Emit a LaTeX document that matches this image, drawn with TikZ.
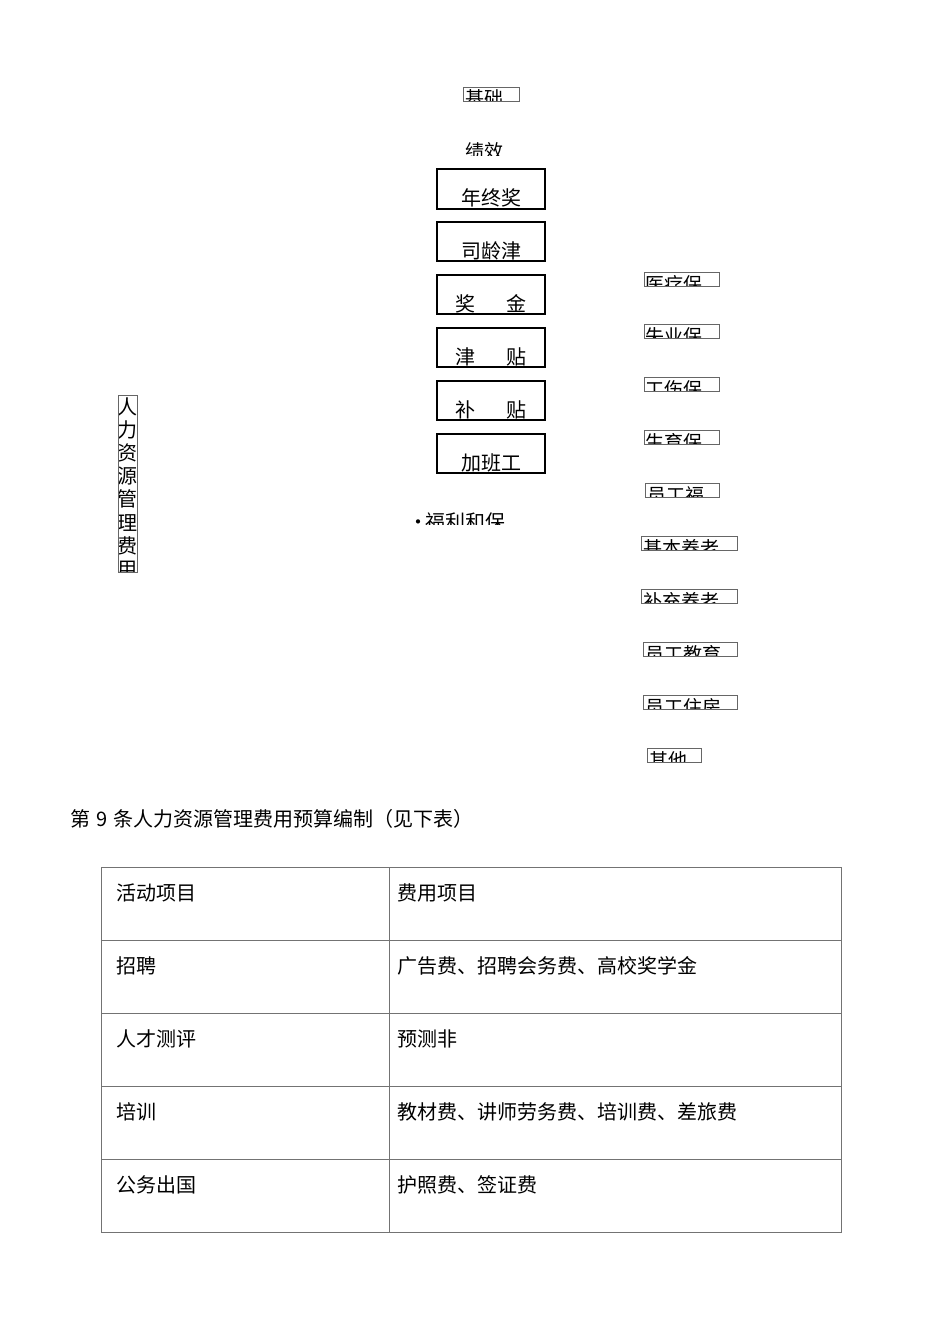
\documentclass[tikz,border=0pt]{standalone}
\usepackage{fontspec}
\newfontfamily\cjk{Noto Sans CJK SC}
\usetikzlibrary{calc}
\tikzset{
	thinbox/.style={draw=black!60, line width=0.5pt},
	thickbox/.style={draw=black, line width=1pt},
	cutlbl/.style={inner sep=0pt, font=\cjk\fontsize{9.5}{11}\selectfont},
	boxlbl/.style={inner sep=0pt, font=\cjk\fontsize{10}{12}\selectfont},
	tbllbl/.style={inner sep=0pt, anchor=north west, font=\cjk\fontsize{10}{12}\selectfont},
	tblline/.style={draw=black!55, line width=0.5pt}
}
\def\cutbox(#1)(#2)(#3)#4#5{%
	\begin{scope}
		\clip (#1) rectangle (#2);
		\node[cutlbl, anchor=north west] (#4) at (#3) {#5};
	\end{scope}
	\draw[thinbox] (#1) rectangle (#2);
}
\def\bigbox(#1)(#2)(#3)#4#5{%
	\draw[thickbox] (#1) rectangle (#2);
	\node[boxlbl, anchor=north] (#4) at (#3) {#5};
}

\begin{document}
\begin{tikzpicture}[x=0.5pt, y=-0.5pt]
			%%%%% START %%%%%
			\useasboundingbox (0, 0) rectangle (950, 1344);
			
			\cutbox(463, 87)(519, 101)(465, 89){jichu}{基础}
			
			\begin{scope}
				\clip (440, 120) rectangle (540, 155);
				\node[cutlbl, anchor=north west] (jixiao) at (465, 142) {绩效};
			\end{scope}
			
			\bigbox(437, 169)(545, 209)(491, 188){nianzhong}{年终奖}
			\bigbox(437, 222)(545, 261)(491, 241){siling}{司龄津}
			\bigbox(437, 275)(545, 314)(491, 294){jiangjin}{奖\hspace{15.5pt}金}
			\bigbox(437, 328)(545, 367)(491, 347){jintie}{津\hspace{15.5pt}贴}
			\bigbox(437, 381)(545, 420)(491, 400){butie}{补\hspace{15.5pt}贴}
			\bigbox(437, 434)(545, 473)(491, 453){jiaban}{加班工}
			
			\begin{scope}
				\clip (405, 500) rectangle (540, 524);
				\node[boxlbl, anchor=north west] (fuli) at (408, 512) {•\hspace{-1.5pt}福利和保};
			\end{scope}
			
			% vertical title
			\begin{scope}
				\clip (118, 395) rectangle (137, 572);
				\node[inner sep=0pt, anchor=north, align=center, font=\cjk\fontsize{10}{11.6}\selectfont] (renli) at (127.5, 397)
					{人\\力\\资\\源\\管\\理\\费\\用};
			\end{scope}
			\draw[thinbox] (118, 395) rectangle (137, 572);
			
			% right column
			\cutbox(644, 272)(719, 286)(645, 275){yiliao}{医疗保}
			\cutbox(644, 324)(719, 338)(645, 327){shiye}{失业保}
			\cutbox(644, 377)(719, 391)(645, 380){gongshang}{工伤保}
			\cutbox(644, 430)(719, 444)(645, 433){shengyu}{生育保}
			\cutbox(645, 483)(719, 497)(647, 486){yuangong}{员工福}
			\cutbox(641, 536)(737, 550)(643, 539){jiben}{基本养老}
			\cutbox(641, 589)(737, 603)(643, 592){buchong}{补充养老}
			\cutbox(643, 642)(737, 656)(645, 645){jiaoyu}{员工教育}
			\cutbox(643, 695)(737, 709)(645, 698){zhufang}{员工住房}
			\cutbox(647, 748)(701, 762)(649, 751){qita}{其他}
			
			% budget table
			\node[tbllbl] (title) at (70, 809) {第\hspace{3pt}9\hspace{3pt}条人力资源管理费用预算编制（见下表）};
			
			\draw[tblline] (101, 867) rectangle (841, 1232);
			\draw[tblline] (389, 867) -- (389, 1232);
			\draw[tblline] (101, 940) -- (841, 940);
			\draw[tblline] (101, 1013) -- (841, 1013);
			\draw[tblline] (101, 1086) -- (841, 1086);
			\draw[tblline] (101, 1159) -- (841, 1159);
			
			\node[tbllbl] (huodong) at (116, 883) {活动项目};
			\node[tbllbl] (feiyong) at (397, 883) {费用项目};
			\node[tbllbl] (zhaopin) at (116, 956) {招聘};
			\node[tbllbl] (zhaopinfei) at (397, 956) {广告费、招聘会务费、高校奖学金};
			\node[tbllbl] (cping) at (116, 1029) {人才测评};
			\node[tbllbl] (cpingfei) at (397, 1029) {预测非};
			\node[tbllbl] (peixun) at (116, 1102) {培训};
			\node[tbllbl] (peixunfei) at (397, 1102) {教材费、讲师劳务费、培训费、差旅费};
			\node[tbllbl] (chuguo) at (116, 1175) {公务出国};
			\node[tbllbl] (chuguofei) at (397, 1175) {护照费、签证费};
			
			%%%%% END %%%%%
\end{tikzpicture}
\end{document}
